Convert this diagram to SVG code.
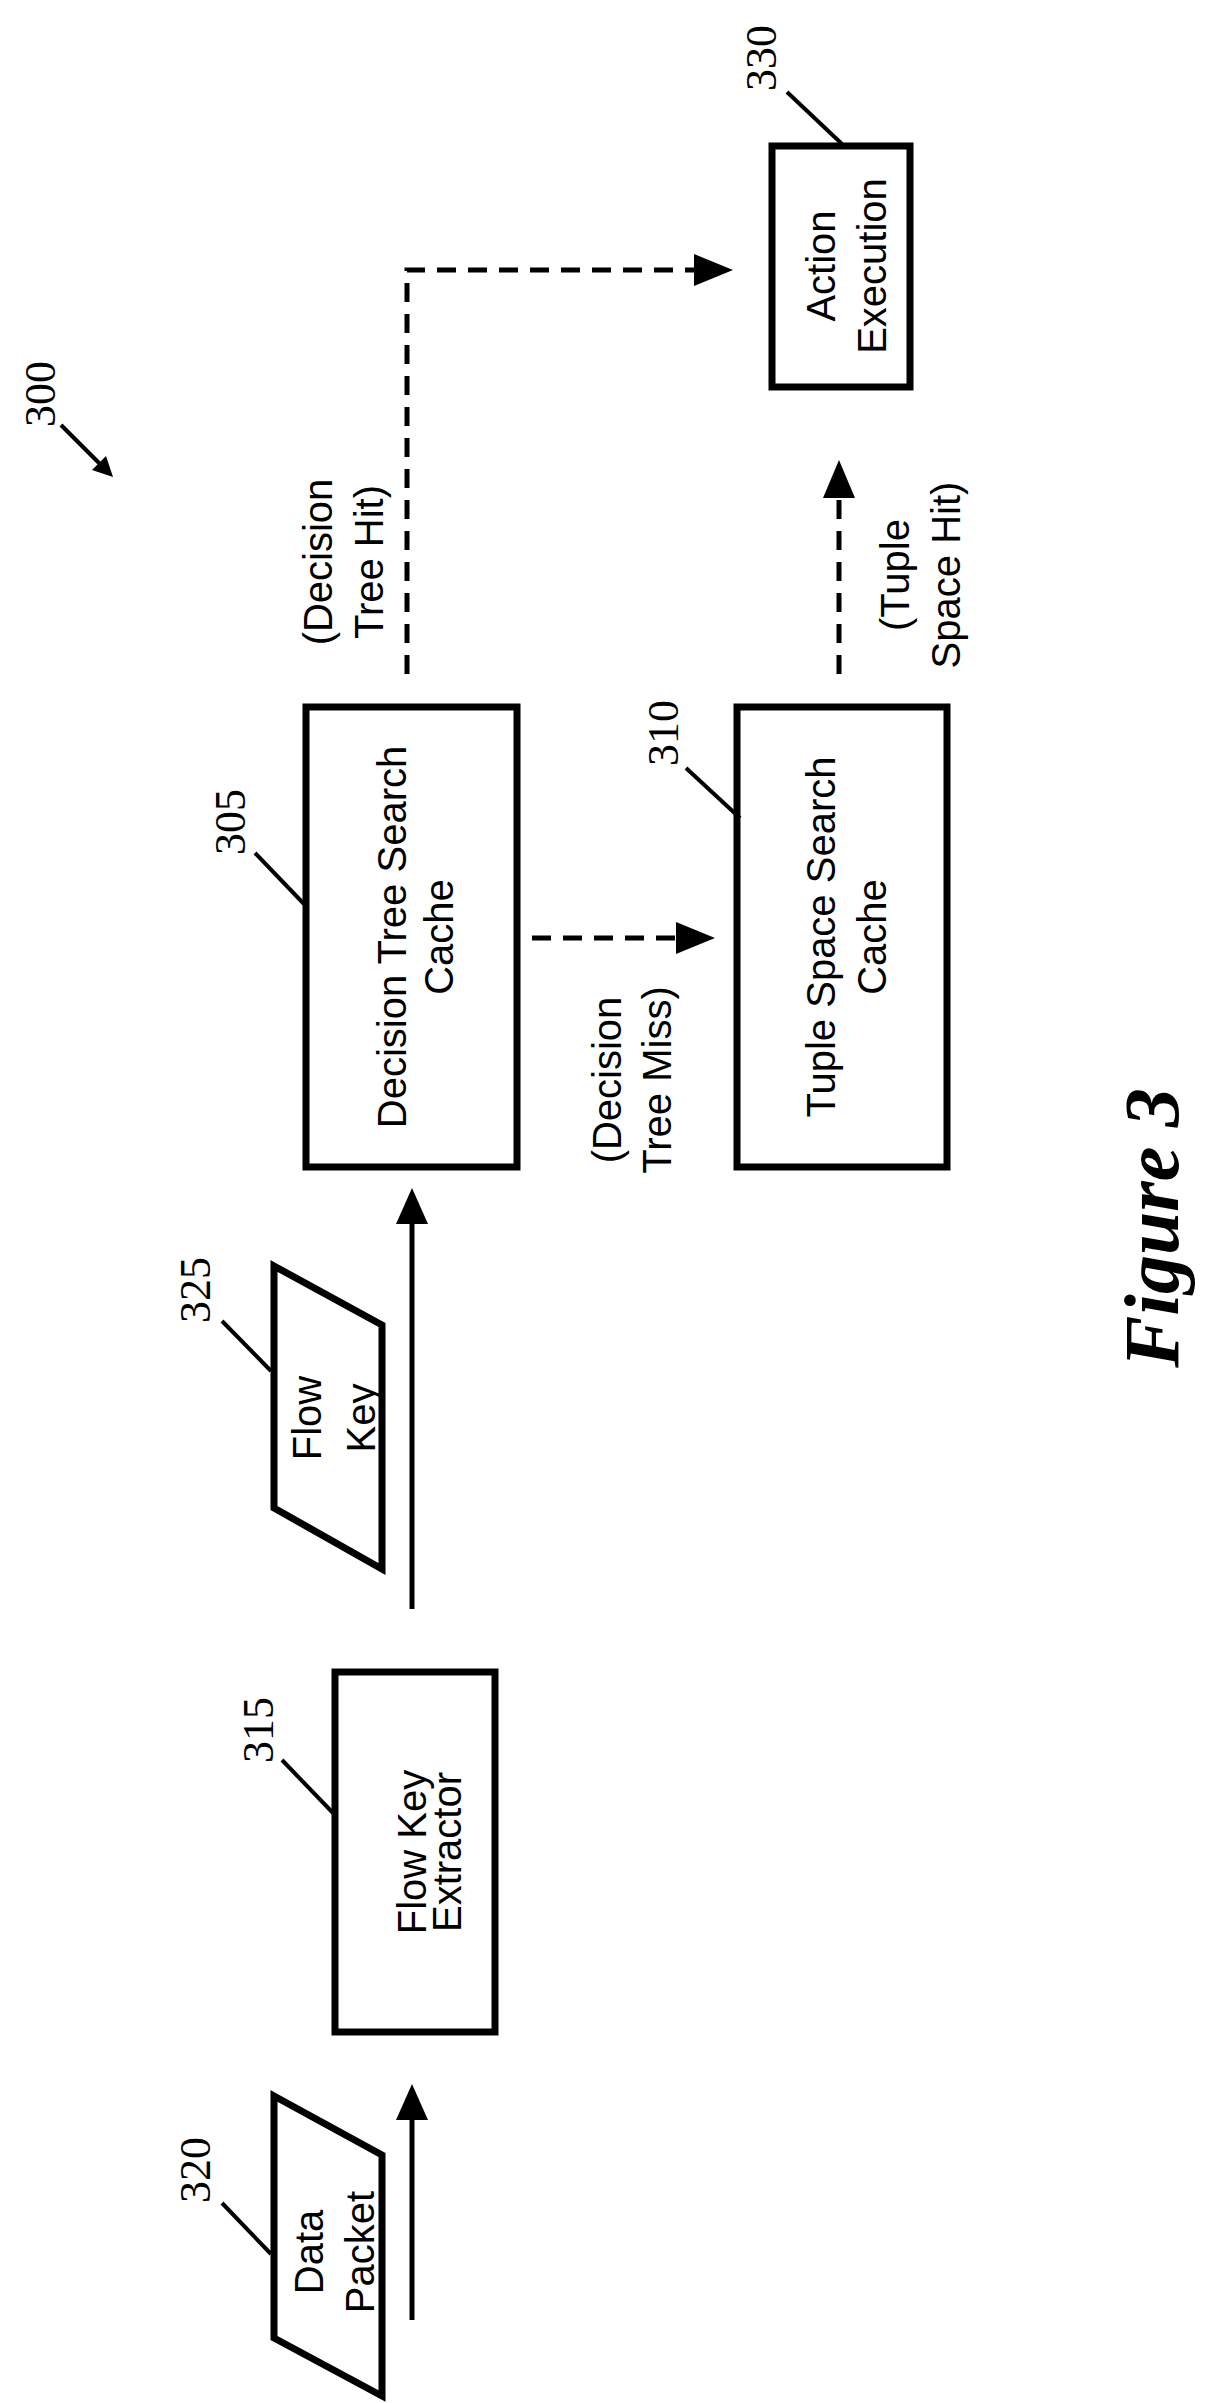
<svg xmlns="http://www.w3.org/2000/svg" width="1216" height="2403" viewBox="0 0 1216 2403">
<style>
.box{fill:none;stroke:#000;stroke-width:7}
.ld{fill:none;stroke:#000;stroke-width:4}
.ln{fill:none;stroke:#000;stroke-width:5}
.ds{fill:none;stroke:#000;stroke-width:5;stroke-dasharray:19 12}
.t{font-family:"Liberation Sans",Arial,sans-serif;font-size:40px;text-anchor:middle}
.n{font-family:"Liberation Serif","Times New Roman",serif;font-size:44px;text-anchor:middle}
.f{font-family:"Liberation Serif","Times New Roman",serif;font-size:78px;font-weight:bold;font-style:italic;text-anchor:middle}
</style>
<rect width="1216" height="2403" fill="#fff"/>
<g id="label300"><text class="n" transform="translate(55,394) rotate(-90)">300</text><line class="ld" x1="61" y1="425" x2="103" y2="467"/><polygon points="113,477 92,470 106,456"/></g>
<g id="n305"><rect class="box" x="306" y="707" width="211" height="460"/><text class="t" transform="translate(406,937) rotate(-90)">Decision Tree Search</text><text class="t" transform="translate(453,937) rotate(-90)">Cache</text><text class="n" transform="translate(245,822) rotate(-90)">305</text><line class="ld" x1="255" y1="853" x2="304" y2="904"/></g>
<g id="n310"><rect class="box" x="737" y="707" width="210" height="460"/><text class="t" transform="translate(835,937) rotate(-90)">Tuple Space Search</text><text class="t" transform="translate(886,937) rotate(-90)">Cache</text><text class="n" transform="translate(678,733) rotate(-90)">310</text><line class="ld" x1="686" y1="768" x2="740" y2="818"/></g>
<g id="n330"><rect class="box" x="772" y="146" width="138" height="241"/><text class="t" transform="translate(835,266) rotate(-90)">Action</text><text class="t" transform="translate(886,266) rotate(-90)">Execution</text><text class="n" transform="translate(776,58) rotate(-90)">330</text><line class="ld" x1="787" y1="92" x2="842" y2="144"/></g>
<g id="n315"><rect class="box" x="335" y="1672" width="160" height="360"/><text class="t" transform="translate(426,1852) rotate(-90)">Flow Key</text><text class="t" transform="translate(461,1852) rotate(-90)">Extractor</text><text class="n" transform="translate(273,1730) rotate(-90)">315</text><line class="ld" x1="282" y1="1760" x2="334" y2="1814"/></g>
<g id="n325"><polygon class="box" points="274,1266 382,1325 382,1569 274,1508"/><text class="t" transform="translate(321,1418) rotate(-90)">Flow</text><text class="t" transform="translate(375,1418) rotate(-90)">Key</text><text class="n" transform="translate(210,1290) rotate(-90)">325</text><line class="ld" x1="222" y1="1321" x2="271" y2="1371"/></g>
<g id="n320"><polygon class="box" points="274,2096 382,2155 382,2396 274,2338"/><text class="t" transform="translate(323,2252) rotate(-90)">Data</text><text class="t" transform="translate(374,2252) rotate(-90)">Packet</text><text class="n" transform="translate(210,2170) rotate(-90)">320</text><line class="ld" x1="222" y1="2203" x2="271" y2="2254"/></g>
<g id="connectors">
<line class="ln" x1="412" y1="2320" x2="412" y2="2118"/><polygon points="412,2084 396,2120 428,2120"/>
<line class="ln" x1="412" y1="1609" x2="412" y2="1222"/><polygon points="412,1188 396,1224 428,1224"/>
<path class="ds" d="M407,674 V270 H700"/><polygon points="733,270 694,254 694,286"/>
<line class="ds" x1="532" y1="938" x2="682" y2="938"/><polygon points="715,938 676,922 676,954"/>
<line class="ds" x1="839" y1="674" x2="839" y2="498"/><polygon points="839,460 823,498 855,498"/>
<text class="t" transform="translate(332,562) rotate(-90)">(Decision</text><text class="t" transform="translate(383,562) rotate(-90)">Tree Hit)</text>
<text class="t" transform="translate(621,1080) rotate(-90)">(Decision</text><text class="t" transform="translate(671,1080) rotate(-90)">Tree Miss)</text>
<text class="t" transform="translate(909,575) rotate(-90)">(Tuple</text><text class="t" transform="translate(960,575) rotate(-90)">Space Hit)</text>
</g>
<text class="f" transform="translate(1178,1228) rotate(-90)">Figure 3</text>
</svg>
